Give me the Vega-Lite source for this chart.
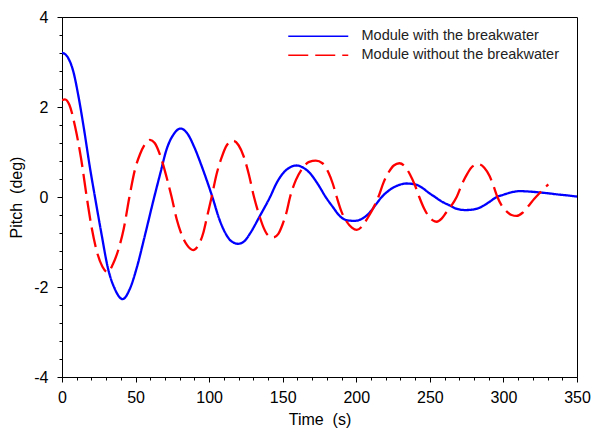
{
  "$schema": "https://vega.github.io/schema/vega-lite/v6.json",
  "width": 515,
  "height": 360,
  "autosize": {"type": "none"},
  "padding": {"left": 62, "top": 17, "right": 16, "bottom": 59},
  "background": "white",
  "config": {
    "view": {"stroke": "black", "strokeWidth": 1},
    "font": "Liberation Sans",
    "axis": {
      "grid": false,
      "domainColor": "black",
      "domainWidth": 1,
      "tickColor": "black",
      "labelColor": "black",
      "titleColor": "black",
      "labelFont": "Liberation Sans",
      "titleFont": "Liberation Sans",
      "labelFontSize": 16,
      "titleFontSize": 16,
      "titleFontWeight": "normal",
      "labelOverlap": false,
      "labelFlush": false,
      "labelBound": false
    }
  },
  "datasets": {
    "curves": [
      {"t": 0, "v": 3.21, "s": "A"},
      {"t": 4, "v": 3.1, "s": "A"},
      {"t": 8, "v": 2.75, "s": "A"},
      {"t": 11, "v": 2.27, "s": "A"},
      {"t": 15, "v": 1.5, "s": "A"},
      {"t": 19, "v": 0.65, "s": "A"},
      {"t": 22.4, "v": 0, "s": "A"},
      {"t": 27, "v": -0.85, "s": "A"},
      {"t": 31, "v": -1.55, "s": "A"},
      {"t": 36, "v": -2.05, "s": "A"},
      {"t": 41.2, "v": -2.27, "s": "A"},
      {"t": 46, "v": -2.05, "s": "A"},
      {"t": 51, "v": -1.55, "s": "A"},
      {"t": 56, "v": -0.9, "s": "A"},
      {"t": 62.7, "v": 0, "s": "A"},
      {"t": 67, "v": 0.55, "s": "A"},
      {"t": 71, "v": 1.05, "s": "A"},
      {"t": 76, "v": 1.4, "s": "A"},
      {"t": 80.6, "v": 1.52, "s": "A"},
      {"t": 85, "v": 1.42, "s": "A"},
      {"t": 90, "v": 1.1, "s": "A"},
      {"t": 95, "v": 0.68, "s": "A"},
      {"t": 102.2, "v": 0, "s": "A"},
      {"t": 107, "v": -0.5, "s": "A"},
      {"t": 111, "v": -0.8, "s": "A"},
      {"t": 115, "v": -0.98, "s": "A"},
      {"t": 119.8, "v": -1.04, "s": "A"},
      {"t": 124, "v": -0.98, "s": "A"},
      {"t": 128, "v": -0.8, "s": "A"},
      {"t": 134, "v": -0.45, "s": "A"},
      {"t": 141.4, "v": 0, "s": "A"},
      {"t": 146, "v": 0.32, "s": "A"},
      {"t": 150, "v": 0.52, "s": "A"},
      {"t": 155, "v": 0.66, "s": "A"},
      {"t": 159.5, "v": 0.7, "s": "A"},
      {"t": 164, "v": 0.65, "s": "A"},
      {"t": 168.5, "v": 0.53, "s": "A"},
      {"t": 174, "v": 0.28, "s": "A"},
      {"t": 179.2, "v": 0, "s": "A"},
      {"t": 184, "v": -0.22, "s": "A"},
      {"t": 189, "v": -0.43, "s": "A"},
      {"t": 194, "v": -0.52, "s": "A"},
      {"t": 199, "v": -0.53, "s": "A"},
      {"t": 204, "v": -0.48, "s": "A"},
      {"t": 209, "v": -0.35, "s": "A"},
      {"t": 213, "v": -0.18, "s": "A"},
      {"t": 217.3, "v": 0, "s": "A"},
      {"t": 222, "v": 0.14, "s": "A"},
      {"t": 227, "v": 0.24, "s": "A"},
      {"t": 234, "v": 0.3, "s": "A"},
      {"t": 240, "v": 0.28, "s": "A"},
      {"t": 245, "v": 0.2, "s": "A"},
      {"t": 249, "v": 0.1, "s": "A"},
      {"t": 253.5, "v": 0, "s": "A"},
      {"t": 258, "v": -0.1, "s": "A"},
      {"t": 263.7, "v": -0.19, "s": "A"},
      {"t": 268, "v": -0.26, "s": "A"},
      {"t": 274, "v": -0.29, "s": "A"},
      {"t": 279, "v": -0.28, "s": "A"},
      {"t": 285, "v": -0.22, "s": "A"},
      {"t": 290, "v": -0.12, "s": "A"},
      {"t": 295.4, "v": 0, "s": "A"},
      {"t": 300, "v": 0.05, "s": "A"},
      {"t": 305, "v": 0.1, "s": "A"},
      {"t": 311, "v": 0.13, "s": "A"},
      {"t": 318, "v": 0.12, "s": "A"},
      {"t": 325, "v": 0.1, "s": "A"},
      {"t": 331, "v": 0.08, "s": "A"},
      {"t": 336, "v": 0.06, "s": "A"},
      {"t": 342, "v": 0.04, "s": "A"},
      {"t": 350, "v": 0.01, "s": "A"},
      {"t": 0, "v": 2.15, "s": "B"},
      {"t": 2, "v": 2.17, "s": "B"},
      {"t": 5, "v": 2.05, "s": "B"},
      {"t": 9, "v": 1.55, "s": "B"},
      {"t": 13, "v": 0.85, "s": "B"},
      {"t": 16.8, "v": 0, "s": "B"},
      {"t": 20, "v": -0.65, "s": "B"},
      {"t": 24, "v": -1.25, "s": "B"},
      {"t": 27.5, "v": -1.55, "s": "B"},
      {"t": 31, "v": -1.67, "s": "B"},
      {"t": 34.5, "v": -1.5, "s": "B"},
      {"t": 38.5, "v": -1.15, "s": "B"},
      {"t": 42, "v": -0.7, "s": "B"},
      {"t": 45.8, "v": 0, "s": "B"},
      {"t": 49.5, "v": 0.6, "s": "B"},
      {"t": 53, "v": 0.95, "s": "B"},
      {"t": 56.5, "v": 1.18, "s": "B"},
      {"t": 59.8, "v": 1.27, "s": "B"},
      {"t": 63, "v": 1.2, "s": "B"},
      {"t": 67, "v": 0.9, "s": "B"},
      {"t": 71, "v": 0.45, "s": "B"},
      {"t": 74.5, "v": 0, "s": "B"},
      {"t": 78, "v": -0.5, "s": "B"},
      {"t": 81.5, "v": -0.85, "s": "B"},
      {"t": 85, "v": -1.07, "s": "B"},
      {"t": 89.2, "v": -1.18, "s": "B"},
      {"t": 92.5, "v": -1.08, "s": "B"},
      {"t": 96, "v": -0.8, "s": "B"},
      {"t": 98.5, "v": -0.45, "s": "B"},
      {"t": 101.7, "v": 0, "s": "B"},
      {"t": 105, "v": 0.5, "s": "B"},
      {"t": 108.5, "v": 0.88, "s": "B"},
      {"t": 112, "v": 1.15, "s": "B"},
      {"t": 116.4, "v": 1.25, "s": "B"},
      {"t": 120, "v": 1.15, "s": "B"},
      {"t": 123.5, "v": 0.9, "s": "B"},
      {"t": 127, "v": 0.5, "s": "B"},
      {"t": 130.5, "v": 0, "s": "B"},
      {"t": 134, "v": -0.4, "s": "B"},
      {"t": 137, "v": -0.68, "s": "B"},
      {"t": 140, "v": -0.85, "s": "B"},
      {"t": 143.6, "v": -0.9, "s": "B"},
      {"t": 147, "v": -0.82, "s": "B"},
      {"t": 150, "v": -0.6, "s": "B"},
      {"t": 152.5, "v": -0.35, "s": "B"},
      {"t": 155, "v": 0, "s": "B"},
      {"t": 159, "v": 0.38, "s": "B"},
      {"t": 163, "v": 0.62, "s": "B"},
      {"t": 168, "v": 0.78, "s": "B"},
      {"t": 172.5, "v": 0.81, "s": "B"},
      {"t": 177, "v": 0.75, "s": "B"},
      {"t": 181, "v": 0.55, "s": "B"},
      {"t": 184, "v": 0.3, "s": "B"},
      {"t": 186.7, "v": 0, "s": "B"},
      {"t": 190, "v": -0.33, "s": "B"},
      {"t": 193.5, "v": -0.55, "s": "B"},
      {"t": 197, "v": -0.68, "s": "B"},
      {"t": 200.3, "v": -0.73, "s": "B"},
      {"t": 204, "v": -0.65, "s": "B"},
      {"t": 208, "v": -0.45, "s": "B"},
      {"t": 211.5, "v": -0.25, "s": "B"},
      {"t": 215, "v": 0, "s": "B"},
      {"t": 218.5, "v": 0.32, "s": "B"},
      {"t": 222, "v": 0.55, "s": "B"},
      {"t": 225.5, "v": 0.7, "s": "B"},
      {"t": 229.3, "v": 0.75, "s": "B"},
      {"t": 233, "v": 0.68, "s": "B"},
      {"t": 236.5, "v": 0.5, "s": "B"},
      {"t": 240, "v": 0.25, "s": "B"},
      {"t": 242.8, "v": 0, "s": "B"},
      {"t": 246, "v": -0.25, "s": "B"},
      {"t": 249, "v": -0.42, "s": "B"},
      {"t": 252, "v": -0.52, "s": "B"},
      {"t": 254.6, "v": -0.55, "s": "B"},
      {"t": 258, "v": -0.48, "s": "B"},
      {"t": 261, "v": -0.35, "s": "B"},
      {"t": 264.5, "v": -0.2, "s": "B"},
      {"t": 268.2, "v": 0, "s": "B"},
      {"t": 272, "v": 0.3, "s": "B"},
      {"t": 275.5, "v": 0.52, "s": "B"},
      {"t": 279, "v": 0.68, "s": "B"},
      {"t": 283, "v": 0.73, "s": "B"},
      {"t": 287, "v": 0.65, "s": "B"},
      {"t": 290.5, "v": 0.47, "s": "B"},
      {"t": 293, "v": 0.27, "s": "B"},
      {"t": 295.9, "v": 0, "s": "B"},
      {"t": 299, "v": -0.2, "s": "B"},
      {"t": 302.5, "v": -0.33, "s": "B"},
      {"t": 305.5, "v": -0.4, "s": "B"},
      {"t": 309, "v": -0.42, "s": "B"},
      {"t": 313, "v": -0.35, "s": "B"},
      {"t": 317, "v": -0.2, "s": "B"},
      {"t": 321, "v": -0.04, "s": "B"},
      {"t": 325, "v": 0.1, "s": "B"},
      {"t": 330.5, "v": 0.28, "s": "B"}
    ]
  },
  "layer": [
    {
      "mark": {"type": "rule", "color": "#333333", "strokeWidth": 1},
      "encoding": {
        "y": {
          "datum": 0,
          "type": "quantitative",
          "scale": {"domain": [-4, 4], "nice": false},
          "axis": {
            "title": "Pitch\u00a0 (deg)",
            "values": [-4,-3.6,-3.2,-2.8,-2.4,-2,-1.6,-1.2,-0.8,-0.4,0,0.4,0.8,1.2,1.6,2,2.4,2.8,3.2,3.6,4],
            "labelExpr": "abs(datum.value) % 2 < 0.001 ? '' + datum.value : ''",
            "tickSize": {"condition": {"test": "abs(datum.value) % 2 < 0.001", "value": 5}, "value": 3},
            "labelPadding": 9,
            "titlePadding": 9
          }
        }
      }
    },
    {
      "data": {"name": "curves"},
      "mark": {"type": "line", "interpolate": "monotone", "strokeWidth": 2.3, "clip": true},
      "encoding": {
        "x": {
          "field": "t",
          "type": "quantitative",
          "scale": {"domain": [0, 350], "nice": false},
          "axis": {
            "title": "Time\u00a0 (s)",
            "values": [0,10,20,30,40,50,60,70,80,90,100,110,120,130,140,150,160,170,180,190,200,210,220,230,240,250,260,270,280,290,300,310,320,330,340,350],
            "labelExpr": "datum.value % 50 === 0 ? '' + datum.value : ''",
            "tickSize": {"condition": {"test": "datum.value % 50 === 0", "value": 5}, "value": 3},
            "labelPadding": 7,
            "titlePadding": 6
          }
        },
        "y": {
          "field": "v",
          "type": "quantitative",
          "scale": {"domain": [-4, 4], "nice": false},
          "axis": {
            "title": "Pitch\u00a0 (deg)",
            "values": [-4,-3.6,-3.2,-2.8,-2.4,-2,-1.6,-1.2,-0.8,-0.4,0,0.4,0.8,1.2,1.6,2,2.4,2.8,3.2,3.6,4],
            "labelExpr": "abs(datum.value) % 2 < 0.001 ? '' + datum.value : ''",
            "tickSize": {"condition": {"test": "abs(datum.value) % 2 < 0.001", "value": 5}, "value": 3},
            "labelPadding": 9,
            "titlePadding": 9
          }
        },
        "color": {
          "field": "s",
          "type": "nominal",
          "scale": {"domain": ["A", "B"], "range": ["#0000FF", "#FF0000"]},
          "legend": {
            "title": null,
            "orient": "none",
            "legendX": 249,
            "legendY": 12,
            "padding": 0,
            "rowPadding": 4,
            "symbolType": "M-6,0H6",
            "symbolSize": 100,
            "symbolStrokeWidth": 1.4,
            "labelFont": "Liberation Sans",
            "labelFontSize": 14.5,
            "labelColor": "#222222",
            "labelOffset": 36,
            "labelLimit": 400,
            "labelExpr": "datum.value === 'A' ? 'Module with the breakwater' : 'Module without the breakwater'"
          }
        },
        "strokeDash": {
          "field": "s",
          "type": "nominal",
          "scale": {"domain": ["A", "B"], "range": [[1, 0], [20, 7]]},
          "legend": {
            "title": null,
            "orient": "none",
            "legendX": 249,
            "legendY": 12,
            "padding": 0,
            "rowPadding": 4,
            "symbolType": "M-6,0H6",
            "symbolSize": 100,
            "symbolStrokeWidth": 1.4,
            "labelFont": "Liberation Sans",
            "labelFontSize": 14.5,
            "labelColor": "#222222",
            "labelOffset": 36,
            "labelLimit": 400,
            "labelExpr": "datum.value === 'A' ? 'Module with the breakwater' : 'Module without the breakwater'"
          }
        }
      }
    }
  ]
}
